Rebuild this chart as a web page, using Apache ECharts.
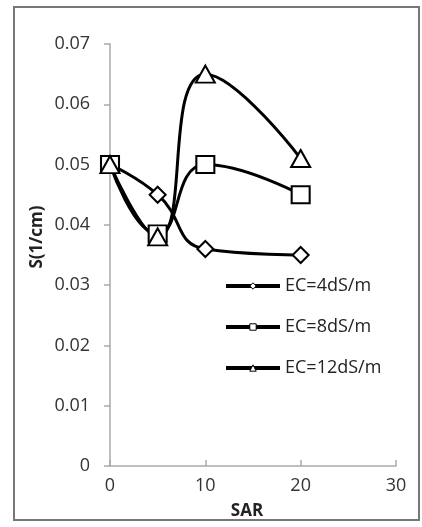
<!DOCTYPE html>
<html>
<head>
<meta charset="utf-8">
<script src="https://cdn.jsdelivr.net/npm/echarts@6/dist/echarts.min.js"></script>
<style>
html,body{margin:0;padding:0;background:#fff;}
#chart{width:422px;height:527px;}
</style>
</head>
<body>
<div id="chart"></div>
<script>
const sar = [0, 5, 10, 20];
const ec4 = [0.050, 0.045, 0.036, 0.035];
const ec8 = [0.050, 0.0385, 0.050, 0.045];
const ec12 = [0.050, 0.038, 0.065, 0.051];
const seriesNames = ['EC=4dS/m', 'EC=8dS/m', 'EC=12dS/m'];
const xTicks = [0, 10, 20, 30];
const yTicks = [0, 0.01, 0.02, 0.03, 0.04, 0.05, 0.06, 0.07];

const font = '"Open Sans", "Liberation Sans", sans-serif';
const pairs = (ys) => sar.map((x, i) => [x, ys[i]]);

const chart = echarts.init(document.getElementById('chart'), null, {renderer: 'canvas'});
const symStyle = {color: '#fff', borderColor: '#000', borderWidth: 2};
function mk(name, data, symbol, size) {
  return {
    name: name, type: 'line', data: pairs(data), smooth: 0.5,
    symbol: symbol, symbolSize: size, showAllSymbol: true,
    lineStyle: {color: '#000', width: 3},
    itemStyle: symStyle,
    z: 3
  };
}
chart.setOption({
  animation: false,
  backgroundColor: '#fff',
  grid: {left: 110, right: 26, top: 44, bottom: 61, containLabel: false},
  legend: {
    orient: 'vertical', left: 219, top: 272,
    itemWidth: 54, itemHeight: 8, itemGap: 23,
    textStyle: {fontFamily: font, fontSize: 18, color: '#222'},
    lineStyle: {width: 4},
    itemStyle: {borderWidth: 1},
    data: seriesNames
  },
  xAxis: {
    type: 'value', min: 0, max: 30, interval: 10,
    name: 'SAR', nameLocation: 'middle', nameGap: 37,
    nameTextStyle: {fontFamily: font, fontSize: 17, fontWeight: 'bold', color: '#222', padding: [0, 12, 0, 0]},
    axisLine: {show: true, lineStyle: {color: '#aaa', width: 1.5}},
    axisTick: {show: true, inside: true, length: 6, lineStyle: {color: '#aaa', width: 1.5}},
    axisLabel: {fontFamily: font, fontSize: 18, color: '#333', margin: 11,
      formatter: (v) => xTicks.includes(v) ? String(v) : ''},
    splitLine: {show: false}
  },
  yAxis: {
    type: 'value', min: 0, max: 0.07, interval: 0.01,
    axisLine: {show: true, lineStyle: {color: '#aaa', width: 1.5}},
    axisTick: {show: true, inside: false, length: 6, lineStyle: {color: '#aaa', width: 1.5}},
    axisLabel: {fontFamily: font, fontSize: 18, color: '#333', margin: 20,
      formatter: (v) => {
        const t = yTicks.find(t => Math.abs(t - v) < 1e-9);
        return t === 0 ? '0' : t.toFixed(2);
      }},
    splitLine: {show: false}
  },
  graphic: [
    {type: 'rect', shape: {x: 14, y: 7, width: 405, height: 513},
     style: {fill: 'none', stroke: '#777', lineWidth: 2}, silent: true, z: -1},
    {type: 'text', x: 37, y: 237, rotation: Math.PI / 2,
     style: {text: 'S(1/cm)', font: 'bold 17px ' + font, fill: '#222',
       textAlign: 'center', textVerticalAlign: 'middle'}}
  ],
  series: [
    mk(seriesNames[0], ec4, 'diamond', [16, 16]),
    mk(seriesNames[1], ec8, 'rect', [18, 17]),
    mk(seriesNames[2], ec12, 'triangle', [19, 17])
  ]
});
</script>
</body>
</html>
